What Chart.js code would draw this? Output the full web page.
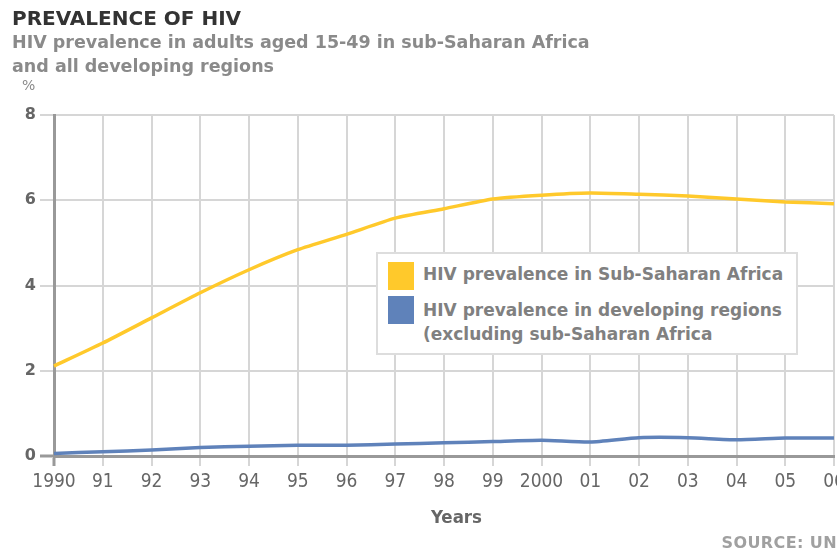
<!DOCTYPE html>
<html>
<head>
<meta charset="utf-8">
<script src="https://cdn.jsdelivr.net/npm/chart.js@4.4.0/dist/chart.umd.min.js"></script>
<style>
  html, body { margin: 0; padding: 0; background: #fff; }
  #wrap { position: relative; width: 837px; height: 550px; overflow: hidden; font-family: "DejaVu Sans", Verdana, sans-serif; }
  #chart { position: absolute; left: 0; top: 0; }
  .txt { position: absolute; white-space: nowrap; font-weight: bold; }
  #title { left: 12px; top: 6px; font-size: 20px; line-height: 24px; color: #333; }
  #sub { left: 12px; top: 30px; font-size: 17.5px; line-height: 24px; color: #8a8a8a; }
  #pct { left: 22px; top: 77px; font-size: 14px; color: #8a8a8a; font-weight: normal; }
  #xt { left: 431px; top: 506px; font-size: 18.5px; color: #666; font-family: "DejaVu Sans Condensed", sans-serif; }
  #src { right: 0px; top: 533px; font-size: 16px; color: #a0a0a0; letter-spacing: 0.4px; }
  #legend { position: absolute; left: 376px; top: 252px; width: 418px; height: 99px; background: #fff; border: 2px solid #ddd; }
  .sw { position: absolute; left: 10px; width: 26px; height: 28px; }
  .lt { position: absolute; left: 45px; font-size: 17px; line-height: 24px; color: #808080; font-weight: bold; white-space: nowrap; }
</style>
</head>
<body>
<div id="wrap">
  <canvas id="chart" width="837" height="550"></canvas>
  <div class="txt" id="title">PREVALENCE OF HIV</div>
  <div class="txt" id="sub">HIV prevalence in adults aged 15-49 in sub-Saharan Africa<br>and all developing regions</div>
  <div class="txt" id="pct">%</div>
  <div class="txt" id="xt">Years</div>
  <div class="txt" id="src">SOURCE: UN</div>
  <div id="legend">
    <div class="sw" style="top:8px;background:#ffc92b;"></div>
    <div class="lt" style="top:8px;">HIV prevalence in Sub-Saharan Africa</div>
    <div class="sw" style="top:42px;background:#5f82ba;"></div>
    <div class="lt" style="top:44px;">HIV prevalence in developing regions<br>(excluding sub-Saharan Africa</div>
  </div>
</div>
<script>
// values
const years = ['1990', '91', '92', '93', '94', '95', '96', '97', '98', '99', '2000', '01', '02', '03', '04', '05', '06'];
const subSaharan = [2.11, 2.65, 3.24, 3.83, 4.37, 4.84, 5.2, 5.58, 5.8, 6.03, 6.12, 6.17, 6.14, 6.1, 6.03, 5.96, 5.92];
const developing = [0.06, 0.1, 0.14, 0.2, 0.23, 0.25, 0.25, 0.28, 0.31, 0.34, 0.37, 0.33, 0.43, 0.43, 0.38, 0.42, 0.42];
const yTicks = [0, 2, 4, 6, 8];

const condensed = '"DejaVu Sans Condensed", sans-serif';

new Chart(document.getElementById('chart'), {
    type: 'line',
    data: {
        labels: years,
        datasets: [
            {
                label: 'HIV prevalence in Sub-Saharan Africa',
                data: subSaharan,
                borderColor: '#ffc92b',
                borderWidth: 3.5,
                pointRadius: 0,
                tension: 0.2
            },
            {
                label: 'HIV prevalence in developing regions (excluding sub-Saharan Africa',
                data: developing,
                borderColor: '#5f82ba',
                borderWidth: 3.5,
                pointRadius: 0,
                tension: 0.2
            }
        ]
    },
    options: {
        responsive: false,
        animation: false,
        layout: { padding: { top: 115, right: 3, left: 0, bottom: 0 } },
        plugins: {
            legend: { display: false },
            tooltip: { enabled: false }
        },
        scales: {
            x: {
                offset: false,
                grid: {
                    color: '#d6d6d6',
                    lineWidth: 2,
                    tickLength: 10,
                    tickColor: (ctx) => ctx.index === 0 ? '#999' : '#d6d6d6',
                    tickWidth: (ctx) => ctx.index === 0 ? 3 : 2
                },
                border: { color: '#999', width: 3 },
                ticks: {
                    color: '#666',
                    font: { family: condensed, size: 19 },
                    padding: 5,
                    maxRotation: 0,
                    autoSkip: false
                },
                afterFit: (scale) => {
                    scale.height = 94;
                    scale.paddingLeft = 0;
                    scale.paddingRight = 0;
                }
            },
            y: {
                min: 0,
                max: 8,
                afterBuildTicks: (scale) => { scale.ticks = yTicks.map(v => ({ value: v })); },
                grid: {
                    color: '#d6d6d6',
                    lineWidth: 2,
                    tickLength: 14,
                    tickColor: (ctx) => ctx.tick && ctx.tick.value === 0 ? '#999' : '#d6d6d6',
                    tickWidth: (ctx) => ctx.tick && ctx.tick.value === 0 ? 3 : 2
                },
                border: { color: '#999', width: 3 },
                ticks: {
                    color: '#666',
                    font: { family: '"DejaVu Sans", sans-serif', size: 16, weight: 'bold' },
                    padding: 4
                },
                afterFit: (scale) => {
                    scale.width = 54;
                    scale.paddingTop = 0;
                    scale.paddingBottom = 0;
                }
            }
        }
    }
});
</script>
</body>
</html>
